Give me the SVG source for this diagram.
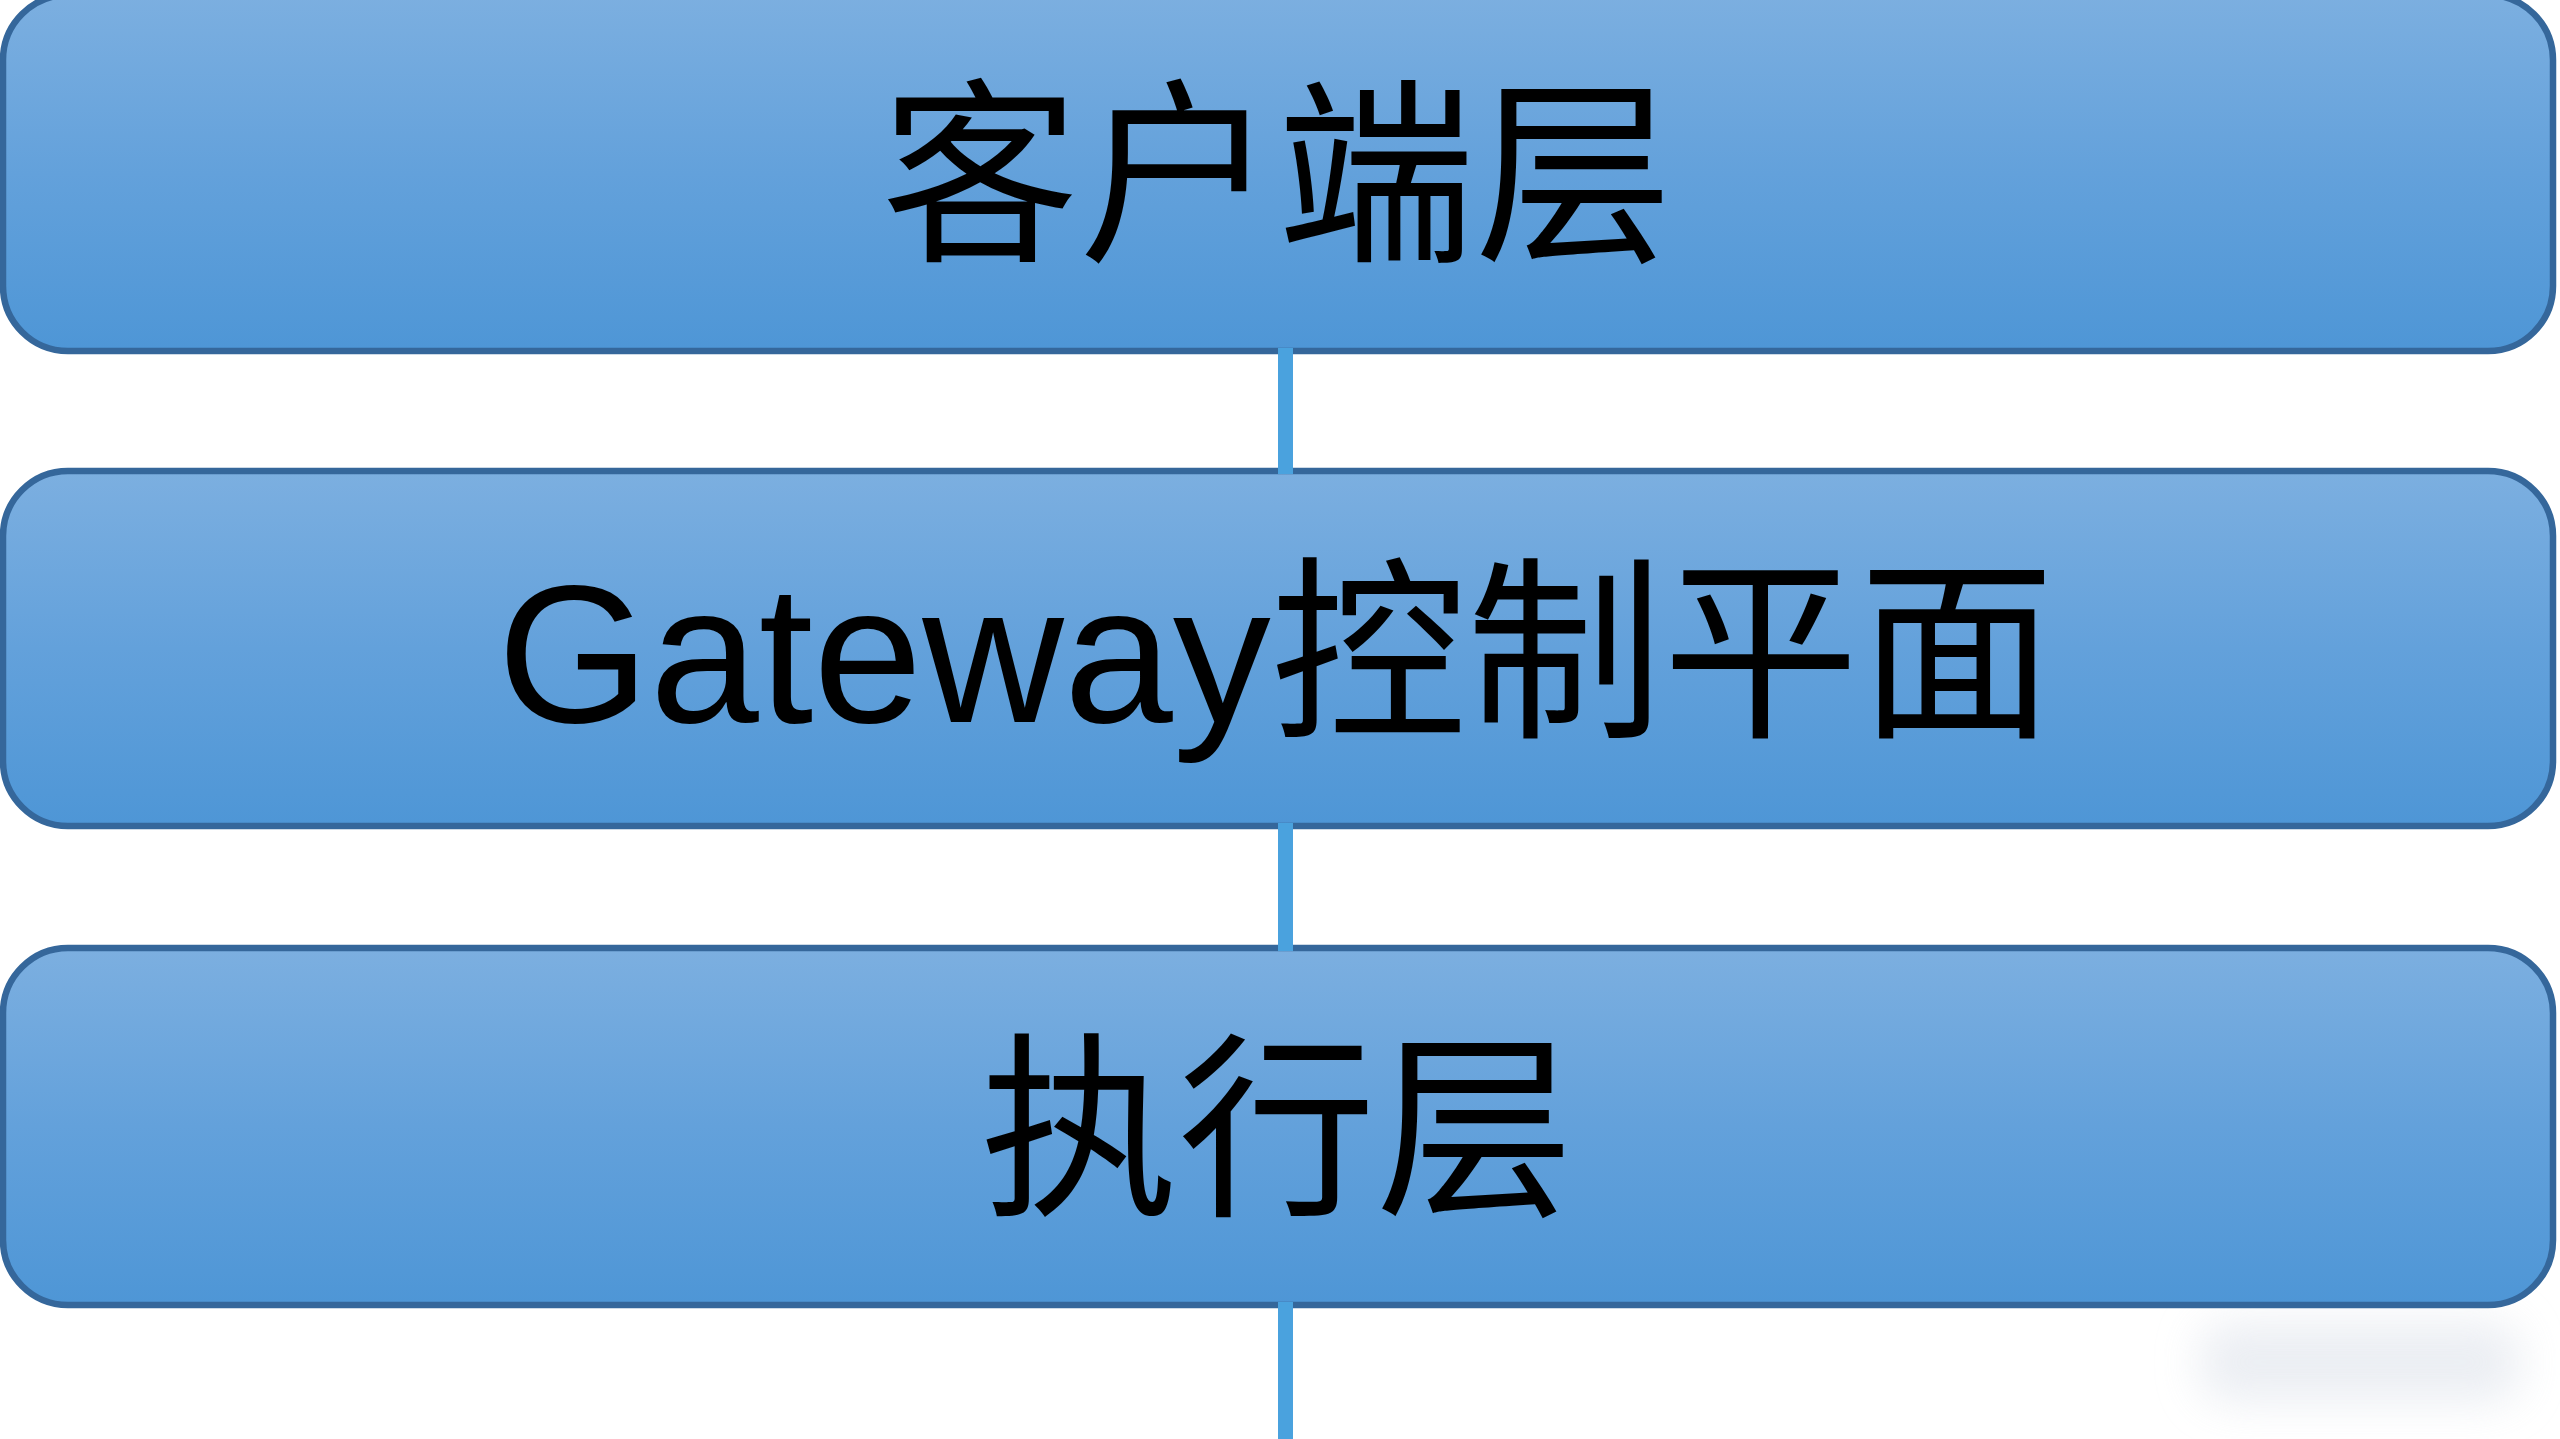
<svg xmlns="http://www.w3.org/2000/svg" width="2560" height="1439" viewBox="0 0 2560 1439">
  <defs>
    <linearGradient id="boxFill" x1="0" y1="0" x2="0" y2="1">
      <stop offset="0" stop-color="#7cafe0"/>
      <stop offset="0.5" stop-color="#63a1db"/>
      <stop offset="1" stop-color="#4e96d6"/>
    </linearGradient>
    <filter id="blur" x="-50%" y="-50%" width="200%" height="200%">
      <feGaussianBlur stdDeviation="22"/>
    </filter>
  </defs>
  <style>
    .box { fill: url(#boxFill); stroke: #35679b; stroke-width: 6.5; }
    .label { font-family: "Liberation Sans", "Noto Sans CJK SC", sans-serif; font-size: 198px; fill: #000000; text-anchor: middle; }
    .conn { stroke: #4aa2de; stroke-width: 15; fill: none; }
  </style>
  <rect x="2200" y="1322" width="320" height="80" rx="30" fill="#e3e7ee" opacity="0.7" filter="url(#blur)"/>
  <g id="node-client">
    <rect class="box" x="3" y="-5" width="2550" height="356" rx="65"/>
    <text class="label" x="1277" y="246">客户端层</text>
  </g>
  <g id="node-gateway">
    <rect class="box" x="3" y="471" width="2550" height="355" rx="65"/>
    <text class="label" x="1276" y="722" style="font-size:196px">Gateway控制平面</text>
  </g>
  <g id="node-exec">
    <rect class="box" x="3" y="948" width="2550" height="357" rx="65"/>
    <text class="label" x="1277" y="1200">执行层</text>
  </g>
  <g id="connectors">
    <line class="conn" x1="1285.5" y1="348" x2="1285.5" y2="474"/>
    <line class="conn" x1="1285.5" y1="823" x2="1285.5" y2="951"/>
    <line class="conn" x1="1285.5" y1="1302" x2="1285.5" y2="1439"/>
  </g>
</svg>
